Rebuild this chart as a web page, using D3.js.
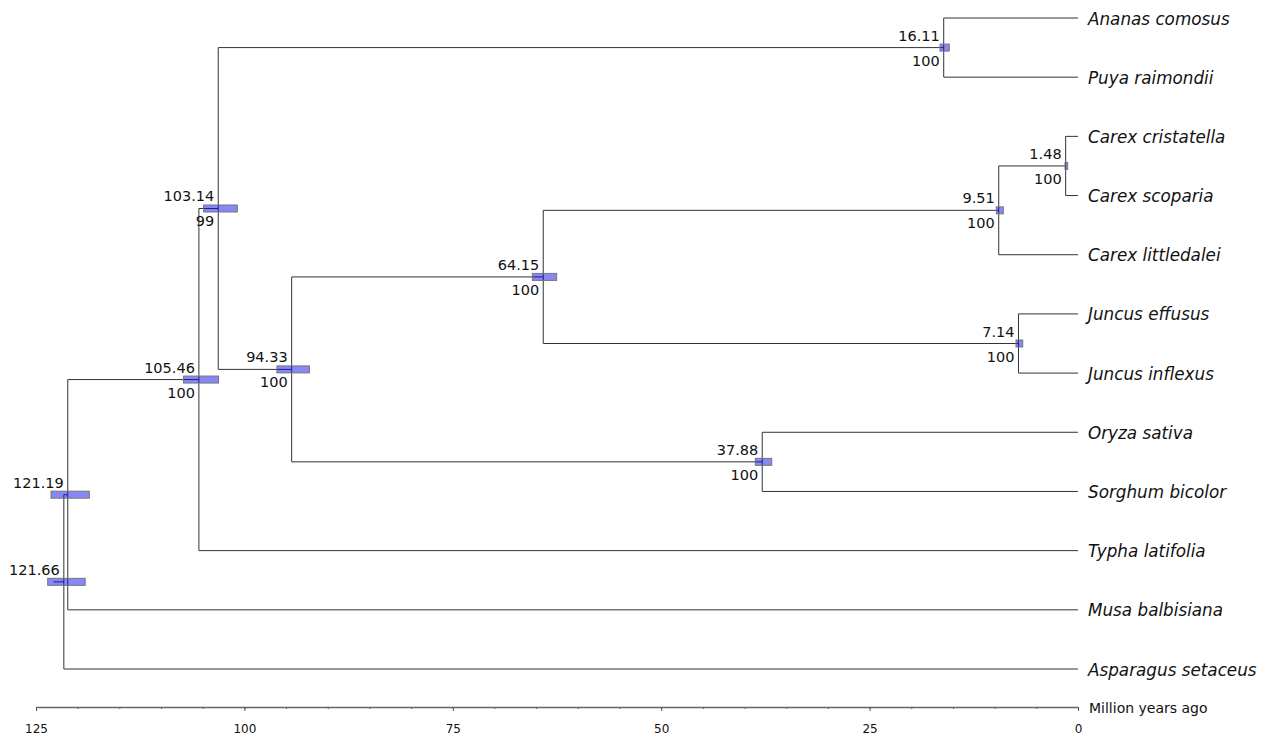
<!DOCTYPE html>
<html>
<head>
  <meta charset="UTF-8">
  <title>Dated phylogeny</title>
  <script src="https://cdn.jsdelivr.net/npm/d3@7"></script>
  <style>
    body { margin: 0; background: #fff; }
    text { font-family: Verdana, "DejaVu Sans", sans-serif; fill: #111; }
    .tip { font-style: italic; font-size: 16.8px; }
    .age, .support { font-size: 14.5px; }
    .title { font-size: 14px; }
  </style>
</head>
<body>
<svg id="chart" width="1265" height="735"></svg>
<script>
  // tips, top to bottom
  const taxa = ["Ananas comosus", "Puya raimondii", "Carex cristatella", "Carex scoparia",
    "Carex littledalei", "Juncus effusus", "Juncus inflexus", "Oryza sativa",
    "Sorghum bicolor", "Typha latifolia", "Musa balbisiana", "Asparagus setaceus"];
  const taxaParents = ["n16", "n16", "n1", "n1", "n9", "n7", "n7", "n37", "n37", "n105", "n121", "root"];

  // internal nodes
  const nodeIds = ["root", "n121", "n105", "n103", "n16", "n94", "n64", "n9", "n1", "n7", "n37"];
  const nodeParents = [null, "root", "n121", "n105", "n103", "n103", "n94", "n64", "n9", "n64", "n94"];
  const nodeAges = [121.66, 121.19, 105.46, 103.14, 16.11, 94.33, 64.15, 9.51, 1.48, 7.14, 37.88];
  const nodeSupport = [null, null, 100, 99, 100, 100, 100, 100, 100, 100, 100];
  const hpdOld = [123.6, 123.2, 107.3, 104.9, 16.55, 96.1, 65.46, 9.80, 1.56, 7.44, 38.71];
  const hpdYoung = [119.1, 118.6, 103.1, 100.85, 15.44, 92.2, 62.54, 8.96, 1.24, 6.63, 36.74];
  const rootStemAge = 122.9;

  const majorTicks = [125, 100, 75, 50, 25, 0];
  const axisTitle = "Million years ago";

  const svg = d3.select('#chart');

  const x = d3.scaleLinear().domain([125, 0]).range([36, 1078]);
  const yTip = d3.scalePoint().domain(taxa).range([18, 669]);

  let rows = nodeIds.map((id, i) => ({
    id: id, parent: nodeParents[i], age: nodeAges[i], support: nodeSupport[i],
    lo: hpdOld[i], hi: hpdYoung[i]
  }));
  taxa.forEach((name, i) => rows.push({id: name, parent: taxaParents[i], age: 0, tip: true}));

  const root = d3.stratify().id(d => d.id).parentId(d => d.parent)(rows);

  root.eachAfter(node =>
  {
    node.px = x(node.data.age);
    node.py = node.children ? d3.mean(node.children, c => c.py) : yTip(node.data.id);
  });

  // branches
  const branches = svg.append('g')
    .attr('fill', 'none')
    .attr('stroke', '#333')
    .attr('stroke-width', 1);

  branches.selectAll('path')
    .data(root.descendants().filter(d => d.parent))
    .enter().append('path')
    .attr('d', d => `M${d.parent.px},${d.parent.py}V${d.py}H${d.px}`);

  branches.append('path')
    .attr('d', `M${x(rootStemAge)},${root.py}H${root.px}`);

  const inner = root.descendants().filter(d => d.children);

  // 95% HPD bars
  svg.append('g').selectAll('rect')
    .data(inner)
    .enter().append('rect')
    .attr('x', d => x(d.data.lo))
    .attr('y', d => d.py - 3.5)
    .attr('width', d => x(d.data.hi) - x(d.data.lo))
    .attr('height', 7)
    .attr('fill', 'rgba(0, 0, 235, 0.47)')
    .attr('stroke', '#777')
    .attr('stroke-width', 1);

  // node ages and support
  svg.append('g').selectAll('text')
    .data(inner)
    .enter().append('text')
    .attr('class', 'age')
    .attr('x', d => d.px - 4)
    .attr('y', d => d.py - 7)
    .attr('text-anchor', 'end')
    .text(d => d.data.age.toFixed(2));

  svg.append('g').selectAll('text')
    .data(inner.filter(d => d.data.support !== null))
    .enter().append('text')
    .attr('class', 'support')
    .attr('x', d => d.px - 4)
    .attr('y', d => d.py + 18)
    .attr('text-anchor', 'end')
    .text(d => d.data.support);

  // tip names
  svg.append('g').selectAll('text')
    .data(root.leaves())
    .enter().append('text')
    .attr('class', 'tip')
    .attr('x', d => d.px + 10)
    .attr('y', d => d.py + 6.5)
    .text(d => d.data.id);

  // time axis
  const axisY = 707;
  const axis = svg.append('g').attr('transform', `translate(0,${axisY})`);

  axis.append('g')
    .call(d3.axisBottom(x).tickValues(d3.range(0, 126, 5)).tickSize(2).tickFormat(''))
    .call(g => g.select('.domain').remove())
    .selectAll('line').attr('stroke', '#555');

  const major = axis.append('g')
    .call(d3.axisBottom(x).tickValues(majorTicks).tickSize(4).tickPadding(13).tickFormat(d3.format('d')));
  major.select('.domain').attr('stroke', '#666').attr('stroke-width', 1.6).attr('d', `M${x(125)},0.5H${x(0)}`);
  major.selectAll('line').attr('stroke', '#555');
  major.selectAll('text').style('font-size', '12px').style('fill', '#111');

  axis.append('text')
    .attr('class', 'title')
    .attr('x', x(0) + 11)
    .attr('y', 5.5)
    .text(axisTitle);
</script>
</body>
</html>
